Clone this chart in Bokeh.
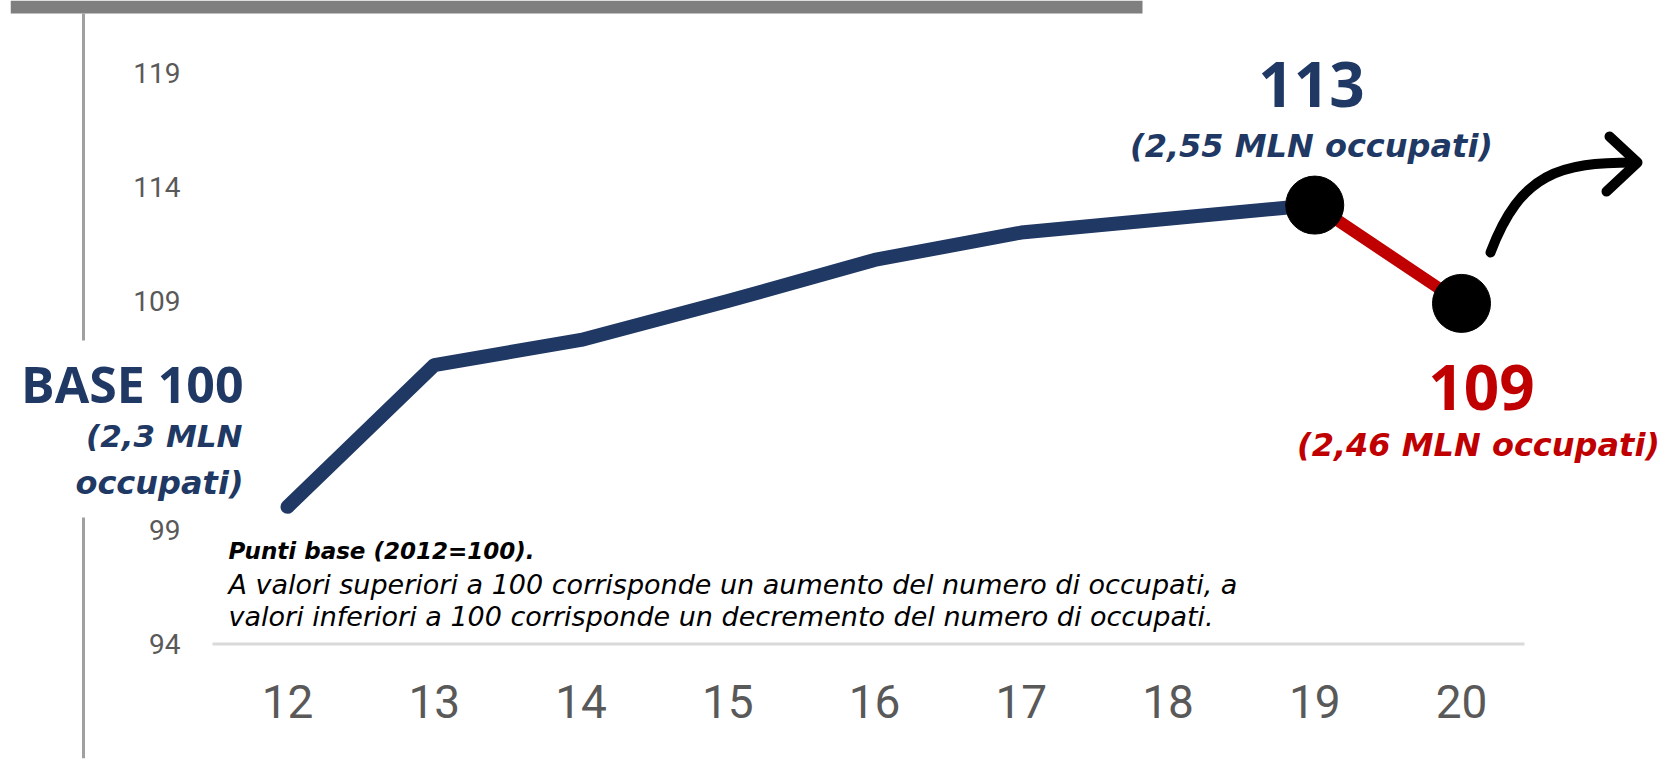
from bokeh.plotting import figure
from bokeh.models import Range1d, FixedTicker, Label
from bokeh.embed import file_html
from bokeh.resources import INLINE

# ---------------- data ----------------
years = [12, 13, 14, 15, 16, 17, 18, 19, 20]
year_labels = ["12", "13", "14", "15", "16", "17", "18", "19", "20"]
index_values = [100.0, 106.2, 107.3, 109.0, 110.8, 112.0, 112.6, 113.2, 108.9]
y_ticks = [94, 99, 109, 114, 119]
base_texts = ["BASE 100", "(2,3 MLN", "occupati)"]
peak_texts = ["113", "(2,55 MLN occupati)"]
last_texts = ["109", "(2,46 MLN occupati)"]
note_texts = [
    "Punti base (2012=100).",
    "A valori superiori a 100 corrisponde un aumento del numero di occupati, a",
    "valori inferiori a 100 corrisponde un decremento del numero di occupati.",
]

NAVY = "#203864"
RED = "#c00000"
GRAY = "#595959"
NUMFONT = "Open Sans"
TXTFONT = "DejaVu Sans"
TICKFONT = "Roboto"

# ---------------- layout (page px) ----------------
X12, XUNIT = 287.0, 146.75      # page x of year 12, px per year
Y119, YUNIT = 72.0, 22.86       # page y of value 119, px per point
W, H = 1663, 759
LEFT = 10
BOTTOM = 1


def fx(px):
    return 12 + (px - X12) / XUNIT


def fy(py):
    return 119 - (py - Y119) / YUNIT


x_start, x_end = fx(LEFT), fx(W)
y_end, y_start = fy(0), fy(H - BOTTOM)

p = figure(width=W, height=H, output_backend="svg", toolbar_location=None,
           x_range=Range1d(x_start, x_end), y_range=Range1d(y_start, y_end),
           min_border_left=LEFT, min_border_right=0, min_border_top=0,
           min_border_bottom=BOTTOM)
p.outline_line_color = None
p.background_fill_color = "white"
p.border_fill_color = "white"
p.xgrid.grid_line_color = None
p.ygrid.grid_line_color = None

# axes
p.xaxis.ticker = FixedTicker(ticks=years)
p.xaxis.major_label_overrides = {y: l for y, l in zip(years, year_labels)}
p.yaxis.ticker = FixedTicker(ticks=y_ticks)
for ax in (p.xaxis[0], p.yaxis[0]):
    ax.axis_line_color = None
    ax.major_tick_line_color = None
    ax.minor_tick_line_color = None
    ax.major_tick_out = 0
    ax.major_tick_in = 0
    ax.major_label_text_color = GRAY
    ax.major_label_text_font = TICKFONT
p.xaxis.major_label_text_font_size = "46px"
p.xaxis.major_label_standoff = -74
p.yaxis.major_label_text_font_size = "28px"
p.yaxis.major_label_standoff = -(180 - LEFT)

# baseline at 94
p.segment(x0=[fx(212)], x1=[fx(1524)], y0=[y_ticks[0]], y1=[y_ticks[0]],
          line_color="#d9d9d9", line_width=3)

# decorations: header bar and left vertical rule
p.quad(left=[x_start], right=[fx(1142)], top=[y_end], bottom=[fy(13)],
       fill_color="#7f7f7f", line_color=None)
p.segment(x0=[fx(83), fx(83)], x1=[fx(83), fx(83)],
          y0=[fy(13), fy(517)], y1=[fy(340), y_start],
          line_color="#a0a0a0", line_width=3)

# series
p.line(years[:8], index_values[:8], line_color=NAVY, line_width=14,
       line_cap="round", line_join="round")
p.line(years[7:], index_values[7:], line_color=RED, line_width=12,
       line_cap="round", line_join="round")
p.scatter(years[7:], index_values[7:], size=58, fill_color="black",
          line_color="black")

# curved arrow
p.bezier(x0=[fx(1490)], y0=[fy(252)], x1=[fx(1634)], y1=[fy(162)],
         cx0=[fx(1520)], cy0=[fy(172)], cx1=[fx(1560)], cy1=[fy(162)],
         line_color="black", line_width=10, line_cap="round")
p.line([fx(1609), fx(1637), fx(1606)], [fy(136), fy(162), fy(191)],
       line_color="black", line_width=10, line_cap="round", line_join="round")


def add_label(x, y, text, font, size, color, style, align):
    p.add_layout(Label(x=x, y=y, text=text, text_font=font,
                       text_font_size=size, text_color=color,
                       text_font_style=style, text_align=align,
                       text_baseline="alphabetic"))


# base annotation
add_label(fx(243), fy(383), base_texts[0], NUMFONT, "50px", NAVY, "bold", "right")
add_label(fx(242), fy(435), base_texts[1], TXTFONT, "31px", NAVY, "bold italic", "right")
add_label(fx(243), fy(482), base_texts[2], TXTFONT, "32px", NAVY, "bold italic", "right")

# peak annotation
add_label(fx(1311), fy(84), peak_texts[0], NUMFONT, "62px", NAVY, "bold", "center")
add_label(fx(1311), fy(145), peak_texts[1], TXTFONT, "32px", NAVY, "bold italic", "center")

# last annotation
add_label(fx(1481), fy(387), last_texts[0], NUMFONT, "62px", RED, "bold", "center")
add_label(fx(1478), fy(444), last_texts[1], TXTFONT, "32px", RED, "bold italic", "center")

# note
add_label(fx(228), fy(550), note_texts[0], TXTFONT, "23px", "black", "bold italic", "left")
add_label(fx(228), fy(584), note_texts[1], TXTFONT, "27px", "black", "italic", "left")
add_label(fx(228), fy(616), note_texts[2], TXTFONT, "27px", "black", "italic", "left")

open("out.html", "w").write(file_html(p, INLINE))
